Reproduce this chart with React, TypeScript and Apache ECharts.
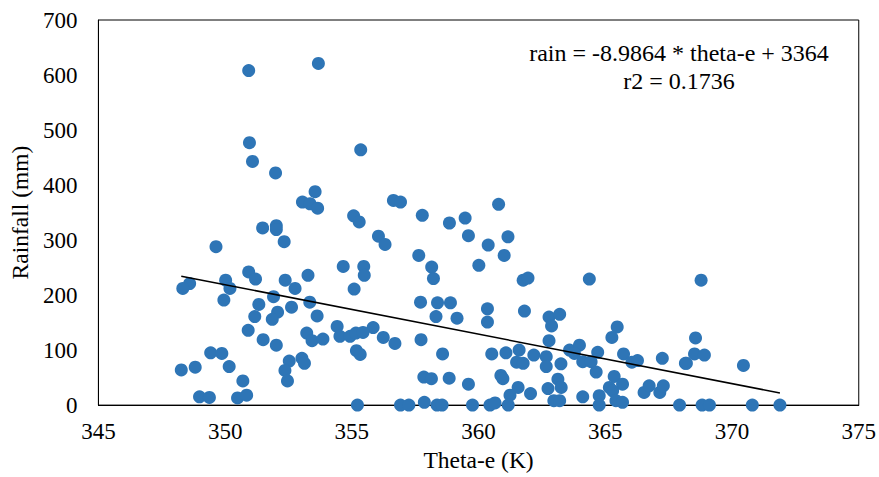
import React, { useEffect, useRef } from "react";
import * as echarts from "echarts";

const thetaE: number[] = [
  350.93, 353.68, 350.96, 351.08, 351.99, 355.35, 353.55, 353.05, 353.35, 353.65,
  355.07, 355.29, 351.48, 352.02, 352.02, 352.33, 349.64, 354.66, 355.47, 355.49,
  355.09, 350.93, 351.2, 350.02, 350.19, 348.6, 348.33, 352.37, 352.76, 353.27,
  351.91, 349.95, 351.33, 353.34, 352.62, 352.07, 351.17, 351.86, 353.63, 350.91,
  354.42, 354.53, 354.93, 355.16, 353.22, 353.43, 353.86, 351.5, 352.02, 355.18,
  355.33, 349.43, 349.87, 350.16, 352.53, 353.03, 353.13, 352.36, 352.46, 348.27,
  348.82, 350.7, 348.99, 349.38, 350.49, 350.85, 355.22, 356.64, 356.92, 360.79,
  357.78, 359.47, 358.85, 359.6, 361.16, 356.05, 356.31, 360.38, 357.64, 361.01,
  360.01, 358.15, 358.22, 361.76, 361.95, 357.71, 358.38, 358.89, 360.35, 361.81,
  358.32, 359.15, 360.35, 362.78, 362.88, 355.84, 355.44, 356.24, 356.7, 357.73,
  362.78, 358.58, 360.52, 361.08, 361.6, 362.18, 362.67, 361.5, 361.76, 362.67,
  357.84, 358.14, 358.84, 359.6, 360.88, 360.96, 361.56, 361.24, 362.05, 362.74,
  362.97, 356.92, 357.25, 357.86, 358.36, 358.56, 359.76, 360.45, 360.65, 361.17,
  364.37, 363.2, 365.47, 365.26, 363.25, 363.59, 363.98, 363.78, 364.11, 364.44,
  364.7, 364.64, 365.72, 366.05, 366.27, 367.25, 368.16, 363.13, 363.26, 363.2,
  364.11, 364.76, 364.76, 365.35, 365.68, 365.16, 365.29, 365.42, 365.68, 366.53,
  366.73, 367.15, 367.29, 367.93, 368.78, 368.56, 368.52, 368.91, 368.2, 370.45,
  368.82, 369.11, 370.8, 371.89,
];

const rainfall: number[] = [
  608, 621, 477, 443, 422, 464, 388, 369, 366, 358,
  344, 333, 322, 326, 319, 297, 288, 252, 252, 236,
  211, 242, 229, 227, 212, 221, 212, 227, 212, 236,
  197, 191, 183, 187, 178, 169, 161, 156, 162, 136,
  143, 125, 125, 131, 131, 117, 120, 119, 109, 99,
  92, 95, 94, 70, 80, 85, 76, 63, 44, 64,
  69, 44, 15, 14, 13, 18, 0, 372, 369, 365,
  345, 340, 331, 308, 306, 307, 292, 291, 272, 272,
  254, 251, 230, 227, 231, 187, 186, 186, 175, 171,
  161, 158, 151, 160, 144, 141, 132, 123, 112, 119,
  117, 93, 93, 95, 100, 91, 88, 78, 76, 70,
  51, 48, 49, 38, 54, 48, 32, 18, 21, 30,
  8, 0, 0, 5, 0, 0, 0, 0, 4, 0,
  229, 165, 142, 123, 75, 100, 109, 94, 79, 79,
  96, 60, 93, 78, 81, 85, 76, 47, 32, 8,
  15, 17, 0, 52, 38, 32, 26, 8, 5, 23,
  35, 23, 35, 0, 227, 122, 93, 91, 76, 72,
  0, 0, 0, 0,
];

const slope = -8.9864;
const intercept = 3364;
const r2 = 0.1736;

const xTicks = { min: 345, max: 375, interval: 5 };
const yTicks = { min: 0, max: 700, interval: 100 };

const xTitle = "Theta-e (K)";
const yTitle = "Rainfall (mm)";
const eqLine1 = `rain = ${slope} * theta-e + ${intercept}`;
const eqLine2 = `r2 = ${r2}`;

const FONT = "'Liberation Serif', 'Times New Roman', serif";

export default function App() {
  const ref = useRef<HTMLDivElement>(null);

  useEffect(() => {
    document.body.style.margin = "0";
    if (!ref.current) return;
    const chart = echarts.init(ref.current, undefined, { renderer: "svg" });

    const points = thetaE.map((x, i) => [x, rainfall[i]]);
    const xMin = Math.min(...thetaE);
    const xMax = Math.max(...thetaE);
    const trend = [
      [xMin, slope * xMin + intercept],
      [xMax, slope * xMax + intercept],
    ];

    chart.setOption({
      animation: false,
      backgroundColor: "#ffffff",
      grid: {
        left: 96,
        top: 20,
        right: 18,
        bottom: 66,
        show: true,
        borderColor: "#000000",
        borderWidth: 1,
        containLabel: false,
      },
      xAxis: {
        type: "value",
        min: xTicks.min,
        max: xTicks.max,
        interval: xTicks.interval,
        name: xTitle,
        nameLocation: "middle",
        nameGap: 40,
        nameTextStyle: { fontFamily: FONT, fontSize: 23.5, color: "#000" },
        axisLine: { show: true, onZero: false, lineStyle: { color: "#000", width: 1 } },
        axisTick: { show: false },
        splitLine: { show: false },
        axisLabel: { fontFamily: FONT, fontSize: 23, color: "#000", margin: 15 },
      },
      yAxis: {
        type: "value",
        min: yTicks.min,
        max: yTicks.max,
        interval: yTicks.interval,
        name: yTitle,
        nameLocation: "middle",
        nameGap: 62,
        nameRotate: 90,
        nameTextStyle: { fontFamily: FONT, fontSize: 23.5, color: "#000" },
        axisLine: { show: true, lineStyle: { color: "#000", width: 1 } },
        axisTick: { show: false },
        splitLine: { show: false },
        axisLabel: { fontFamily: FONT, fontSize: 23, color: "#000", margin: 21 },
      },
      series: [
        {
          type: "scatter",
          data: points,
          symbol: "circle",
          symbolSize: 13,
          itemStyle: { color: "#2E75B6", opacity: 1 },
          z: 2,
        },
        {
          type: "line",
          data: trend,
          showSymbol: false,
          symbol: "none",
          lineStyle: { color: "#000", width: 1.5 },
          z: 3,
        },
      ],
      graphic: [
        {
          type: "text",
          x: 679,
          y: 53,
          style: {
            text: eqLine1,
            fontFamily: FONT,
            fontSize: 24,
            fill: "#000",
            textAlign: "center",
            textVerticalAlign: "middle",
          },
        },
        {
          type: "text",
          x: 679,
          y: 81,
          style: {
            text: eqLine2,
            fontFamily: FONT,
            fontSize: 24,
            fill: "#000",
            textAlign: "center",
            textVerticalAlign: "middle",
          },
        },
      ],
    });

    return () => chart.dispose();
  }, []);

  return <div ref={ref} style={{ width: 879, height: 477 }} />;
}
